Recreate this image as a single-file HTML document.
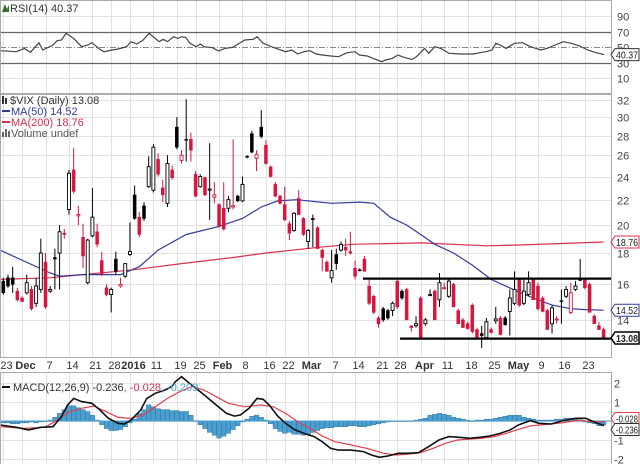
<!DOCTYPE html>
<html><head><meta charset="utf-8"><style>
html,body{margin:0;padding:0;background:#fff;}
svg{display:block;font-family:"Liberation Sans",sans-serif;}
</style></head><body>
<svg id="chart" width="640" height="464" viewBox="0 0 640 464" xmlns="http://www.w3.org/2000/svg">
<defs>
<clipPath id="clipRsi"><rect x="0" y="0" width="611" height="93"/></clipPath>
<clipPath id="clipMain"><rect x="0" y="94" width="611" height="263"/></clipPath>
<clipPath id="clipMacd"><rect x="0" y="372" width="611" height="92"/></clipPath>
</defs>
<g id="grid"></g>
<g id="rsiG" clip-path="url(#clipRsi)"></g>
<g id="mainG" clip-path="url(#clipMain)"></g>
<g id="macdG" clip-path="url(#clipMacd)"></g>
<g id="axes"></g>
<g id="legends">
  <text x="10" y="12" font-size="11" fill="#333">RSI(14) 40.37</text>
  <path d="M2 12 L5 4 L7 9 L9 5 L9 12 Z" fill="#3a6a30"/>
  <text x="10" y="104" font-size="11" fill="#333">$VIX (Daily) 13.08</text>
  <path d="M2 96 h2 v8 h-2z M5 98 h2 v6 h-2z" fill="#333"/>
  <line x1="2" y1="111" x2="10" y2="111" stroke="#333c99" stroke-width="2"/>
  <text x="11" y="115" font-size="11" fill="#333c99">MA(50) 14.52</text>
  <line x1="2" y1="122" x2="10" y2="122" stroke="#d8304f" stroke-width="2"/>
  <text x="11" y="126" font-size="11" fill="#d8304f">MA(200) 18.76</text>
  <path d="M2 137 v-5 h2 v5z M5 137 v-8 h2 v8z M8 137 v-6 h2 v6z" fill="#666"/>
  <text x="11" y="137" font-size="11" fill="#555">Volume undef</text>
  <line x1="2" y1="387" x2="10" y2="387" stroke="#111" stroke-width="2"/>
  <text x="13" y="391" font-size="11" fill="#333">MACD(12,26,9) -0.236<tspan fill="#d8304f">, -0.028</tspan><tspan fill="#4aa3d8">, -0.209</tspan></text>
</g>
</svg>
<script>
// ---- data ----
const opens=[16.2,16.4,16.4,15.6,15.2,15.5,15.7,14.9,15.7,17.4,15.6,17.7,18.0,19.4,21.2,24.6,20.7,19.1,16.1,19.2,19.5,17.5,15.8,15.4,17.6,15.9,16.5,17.9,22.4,20.6,21.5,23.1,22.8,25.6,23.0,21.7,24.6,28.9,25.5,27.6,27.6,24.2,23.1,23.9,22.8,22.2,21.6,21.3,21.3,21.4,22.3,21.9,25.9,28.2,25.7,28.9,27.0,24.9,23.3,22.3,21.6,20.1,19.6,22.1,20.5,18.8,20.5,19.8,18.2,17.4,16.4,17.9,18.2,18.4,18.1,17.0,16.9,17.6,15.9,15.3,14.1,14.6,14.5,14.5,16.2,15.6,15.7,13.7,13.7,15.2,13.8,15.4,15.6,15.1,15.8,15.3,16.0,14.5,14.0,13.8,14.8,13.5,13.3,13.1,13.5,13.95,14.1,14.1,14.45,14.9,16.3,14.9,15.4,16.3,15.9,15.2,14.5,13.8,14.0,15.05,15.3,14.4,15.7,16.3,16.3,16.0,14.2,13.7,13.5];
const highs=[16.4,16.6,17.1,15.8,15.3,16.6,15.9,16.4,19.0,18.0,15.9,18.3,20.0,19.7,24.6,26.7,21.5,20.1,19.0,23.0,20.1,18.1,16.0,15.8,18.1,16.4,17.3,20.2,23.2,21.0,21.8,25.9,27.1,26.2,23.7,26.0,25.0,30.0,26.5,32.1,28.3,24.5,24.2,24.0,27.2,23.5,21.7,23.5,22.3,27.6,22.4,24.0,26.0,28.5,26.5,30.8,27.5,25.0,23.5,22.4,23.1,20.3,21.0,22.8,20.6,19.7,20.8,19.9,18.3,17.5,18.2,18.3,18.8,19.0,19.5,17.5,17.0,17.8,16.4,15.4,14.2,14.7,14.6,15.0,16.4,15.7,15.8,13.7,14.2,15.3,14.1,15.7,15.7,16.7,16.1,16.3,16.1,14.6,14.1,13.9,14.9,13.6,13.7,14.1,13.6,14.7,14.2,14.2,15.7,16.8,16.4,16.3,16.8,16.4,16.1,15.3,14.6,14.8,14.2,15.7,15.9,16.1,16.2,17.6,16.4,16.1,14.3,13.9,13.6];
const lows=[15.4,15.8,15.5,15.0,15.0,15.4,14.5,14.7,15.5,14.6,15.5,15.7,15.7,19.0,20.8,22.5,20.0,17.0,16.0,19.1,18.4,16.5,15.3,14.4,16.6,15.8,16.4,17.8,20.4,19.1,20.3,23.0,22.6,24.0,21.8,21.4,23.7,26.6,25.2,25.4,25.4,22.2,23.0,22.3,20.4,21.7,19.8,19.6,21.0,21.2,21.8,21.8,25.7,26.2,24.5,27.7,25.1,23.9,22.2,21.6,20.3,18.9,19.5,20.8,19.2,18.3,18.4,18.3,16.8,16.8,16.1,16.9,18.1,17.8,17.9,16.3,16.8,16.8,14.8,14.3,13.6,13.9,14.0,14.2,14.6,15.1,14.0,13.4,13.6,13.0,13.7,15.3,14.0,14.7,15.7,15.2,14.7,13.8,13.6,13.5,13.3,13.0,12.6,13.0,13.3,13.8,13.2,13.7,13.2,14.8,14.7,14.8,15.3,15.1,14.5,14.4,13.5,13.3,13.8,13.8,15.2,14.3,15.6,16.2,15.7,14.4,13.8,13.5,13.0];
const closes=[15.5,15.9,16.0,15.1,15.0,16.1,14.6,15.9,18.0,14.7,15.7,17.6,19.5,19.3,24.3,22.7,20.8,17.8,18.9,20.6,18.6,16.6,15.4,15.7,16.8,16.0,17.3,18.1,20.5,19.3,20.5,24.9,26.8,24.2,22.4,25.2,23.9,26.8,26.0,27.5,26.5,22.3,24.0,22.4,22.9,22.4,19.9,19.7,22.0,21.5,21.9,23.3,25.8,26.3,26.1,27.9,25.2,24.0,22.3,21.7,20.4,19.4,20.9,20.8,19.3,19.6,20.4,18.3,17.7,16.8,16.85,17.3,18.6,18.2,18.0,16.5,16.85,16.8,14.9,14.4,13.8,14.0,14.1,14.9,14.7,15.2,14.0,13.6,13.8,13.1,14.0,15.4,14.0,16.1,15.8,16.2,14.7,13.8,13.6,13.55,13.4,13.1,13.2,13.9,13.35,14.05,13.25,13.75,15.2,15.7,14.8,15.6,16.1,15.1,14.6,14.45,13.5,14.65,14.05,15.0,15.7,15.5,15.9,16.25,15.8,14.4,13.8,13.5,13.08];
const ma50Day=[-0.7,10,12,17,25,29,33,39,46,51,55,58.5,62.6,67.5,70,76,79,82.5,86,89,92,96,100,104,108.7,113,117,121,124,128];
const ma50Val=[18.2,16.7,16.5,16.6,16.6,17.1,18.2,19.3,19.9,20.5,21.4,21.9,22.0,21.8,21.7,21.8,21.7,20.6,20.0,19.3,18.6,18.0,17.2,16.3,15.7,15.2,14.8,14.6,14.55,14.52];
const ma200Day=[-0.7,10,17,27.7,38,49,56,67.5,74.6,89,103,110,128];
const ma200Val=[16.3,16.4,16.6,16.9,17.3,17.7,18.0,18.4,18.6,18.7,18.5,18.55,18.76];
const trendStart=[76.7,84.6];
const trendVal=[16.35,13.05];
const rsiDay=[-0.7,2.8,4.5,5.8,7.6,8.4,10.6,11.5,12.4,13.4,15,16.7,18,18.9,20.6,21.5,23.2,24.5,26.3,27.2,28.5,29.8,31.1,32.4,33.2,34.1,35,36.3,37.2,38,38.9,39.8,41.1,42,42.8,44.6,45.9,47.2,48.9,51.5,53.3,54.1,55.4,57.6,60.2,61.5,62.8,64.1,65.4,66.7,68,69.8,71.5,73.3,75,75.9,77.6,79.4,80.7,81.5,82.9,84.2,85,86.3,87.2,88.1,89.8,90.7,92,93.3,95,97.6,100.3,101.6,102.9,104.2,105,105.9,107.2,109,110.7,112.4,114.6,115.9,117.7,119.4,121.1,122.9,124.6,126.4,128.1];
const rsiVal=[45.5,44.2,48.5,43.4,55.8,46.4,52.8,58.4,59.3,67.9,61.4,50.7,52.8,55.8,47.2,44.2,46.4,47.7,50.7,57.1,54.1,59.3,67.9,61.4,57.1,60.2,57.1,63.6,61.4,63.6,62.7,55.0,50.7,54.1,50.7,49.4,45.1,48.5,49.8,59.3,60.2,63.6,55.0,49.8,44.2,46.4,41.2,44.2,45.5,41.2,39.9,38.6,37.8,42.9,44.2,39.9,38.6,34.3,31.3,33.5,35.6,39.9,37.8,35.6,34.3,37.8,48.5,42.1,50.7,48.5,42.1,41.2,41.2,42.9,44.2,46.4,55.0,52.8,48.5,55.0,55.8,50.7,46.4,48.5,52.8,57.1,55.0,51.5,46.4,42.9,40.4];
const macdDay=[-0.7,2.8,5.4,8,10.6,12.4,13.7,15,16.7,18.9,20.6,22.4,24.5,25.8,27.2,29.3,30.6,32.4,34.5,35.9,36.7,38,39.3,40.2,42,43.7,45.4,47.6,49.3,50.6,52.4,54.1,55.4,56.7,58.5,60.2,62,64.1,66.3,68,69.8,71.5,74.1,76.8,78.5,80.2,82,84.2,86.3,88.5,90.7,92.9,95,97.2,99.4,101.6,103.7,105.9,108.1,109.8,112.4,114.2,116.8,119.4,122,124.2,126.4,128.1];
const macdVal=[-0.21,-0.33,-0.47,-0.33,-0.30,0.23,0.84,1.19,1.02,0.93,0.58,0.14,-0.12,-0.16,0.05,0.58,1.19,1.46,1.63,1.81,2.07,2.33,2.07,1.89,1.54,1.19,0.84,0.40,0.26,0.32,0.67,1.19,1.14,0.84,0.26,-0.12,-0.44,-0.65,-0.82,-1.09,-1.44,-1.53,-1.53,-1.61,-1.79,-1.91,-1.84,-1.70,-1.70,-1.67,-1.35,-1.0,-0.82,-0.86,-0.91,-0.86,-0.79,-0.65,-0.47,-0.21,0.02,-0.12,-0.16,0.02,0.14,0.14,-0.09,-0.24];
const signalDay=[-0.7,4.5,8.9,11.5,14.1,16.7,19.3,21.9,24.5,27.2,29.8,32.4,35,37.6,40.2,42.8,45.4,48,51.5,55,57.6,60.2,62.8,65.4,68,70.7,74.1,77.6,81.1,83.7,86.3,88.9,91.6,94.2,96.8,99.4,102,104.6,107.2,109.8,112.4,115.9,119.4,122.9,125.5,128.1];
const signalVal=[-0.30,-0.39,-0.33,0.05,0.49,0.67,0.79,0.49,0.19,0.14,0.32,0.75,1.19,1.54,1.81,1.63,1.28,0.93,0.75,0.84,0.75,0.40,-0.04,-0.39,-0.79,-1.09,-1.26,-1.44,-1.70,-1.79,-1.74,-1.67,-1.44,-1.18,-1.0,-0.96,-0.91,-0.82,-0.65,-0.44,-0.26,-0.18,-0.09,0.05,-0.04,-0.03];
const histVal=[-0.1,-0.1,-0.15,-0.15,-0.1,-0.1,-0.05,-0.1,-0.05,0,0.05,0.2,0.4,0.6,0.8,0.8,0.7,0.6,0.5,0.3,0.05,-0.2,-0.4,-0.5,-0.5,-0.45,-0.3,-0.1,0.1,0.4,0.6,0.85,0.75,0.65,0.6,0.6,0.55,0.55,0.5,0.5,0.3,0.0,-0.2,-0.4,-0.6,-0.75,-0.9,-0.8,-0.65,-0.45,-0.25,-0.05,0.1,0.25,0.3,0.2,0.05,-0.15,-0.4,-0.55,-0.65,-0.6,-0.7,-0.7,-0.75,-0.7,-0.6,-0.5,-0.4,-0.35,-0.35,-0.3,-0.3,-0.3,-0.25,-0.25,-0.3,-0.3,-0.25,-0.2,-0.15,-0.1,-0.05,0,0,0,0,0,0.05,0.1,0.15,0.3,0.35,0.4,0.35,0.3,0.2,0.15,0.1,0.05,0,0.05,0.05,0.1,0.1,0.15,0.2,0.25,0.3,0.3,0.3,0.2,0.15,0.1,0.05,0.05,0.05,0.05,0.1,0.1,0.15,0.15,0.1,0.05,-0.05,-0.1,-0.15,-0.25,-0.21];
const priceTicks=[14,16,18,20,22,24,26,28,30,32];
const rsiTicks=[10,30,50,70,90];
const macdTicks=[-2,-1,0,1,2];
const weekDay=[0,4,9,14,19,23,27,32,37,41,46,51,56,60,65,70,75,80,84,89,94,99,104,109,114,119,124];
const weekLabel=["23","Dec","7","14","21","28","2016","11","19","25","Feb","8","16","22","Mar","7","14","21","28","Apr","11","18","25","May","9","16","23"];

// ---- scales ----
const NS="http://www.w3.org/2000/svg";
const xOf=i=>3.3+4.69*i;
const yP=v=>100+(Math.log(32)-Math.log(v))*266;
const yR=v=>31.7+(70-v)*0.775;
const yM=v=>421-19*v;
const RED="#d8153f";
function mk(tag,attrs,parent){const e=document.createElementNS(NS,tag);for(const k in attrs)e.setAttribute(k,attrs[k]);parent.appendChild(e);return e;}
const grid=document.getElementById('grid'),rsiG=document.getElementById('rsiG'),mainG=document.getElementById('mainG'),macdG=document.getElementById('macdG'),axes=document.getElementById('axes');

[[0,0,611,93],[0,94,611,263],[0,372,611,92]].forEach((r,k)=>{
  const e=mk('rect',{x:r[0]+0.5,y:r[1]+0.5,width:r[2],height:r[3],fill:'none',stroke:'#aaa','stroke-width':1},axes);
  
  
});

weekDay.forEach((d,k)=>{
  const x=Math.round(xOf(d))+0.5;
  [[0,93],[94,357],[372,464]].forEach(p=>{
    const l=mk('line',{x1:x,x2:x,y1:p[0],y2:p[1],stroke:'#e2e2e2','stroke-width':1},grid);
    
    
  });
  const bold=isNaN(+weekLabel[k])||weekLabel[k]==="2016";
  const t=mk('text',{x:x+3,y:369,'font-size':11,'text-anchor':'middle',fill:'#333','font-weight':bold?'bold':'normal'},axes);
  t.textContent=weekLabel[k];
  
  
});

priceTicks.forEach(v=>{
  const y=Math.round(yP(v))+0.5;
  const l=mk('line',{x1:0,x2:611,y1:y,y2:y,stroke:'#e2e2e2'},grid);
  
  
  const t=mk('text',{x:617,y:y+4,'font-size':11,fill:'#444'},axes);
  t.textContent=v;
  
  
});
rsiTicks.forEach(v=>{
  const y=Math.round(yR(v))+0.5;
  const strong=(v===30||v===70);
  const l=mk('line',{x1:0,x2:611,y1:y,y2:y,stroke:strong?'#666':(v===50?'#888':'#e2e2e2'),'stroke-width':strong?1.3:1,'stroke-dasharray':v===50?'6,2,1,2':'none'},grid);
  
  
  const t=mk('text',{x:617,y:y+4,'font-size':11,fill:'#444'},axes);
  t.textContent=v;
  
  
});
macdTicks.forEach(v=>{
  const y=Math.round(yM(v))+0.5;
  const l=mk('line',{x1:0,x2:611,y1:y,y2:y,stroke:'#e2e2e2'},grid);
  
  
  if(v!==0){const t=mk('text',{x:614,y:y+4,'font-size':11,fill:'#444'},axes);
  t.textContent=v;
  
  }
});

let d='';rsiDay.forEach((dd,k)=>{d+=(k?'L':'M')+xOf(dd).toFixed(1)+' '+yR(rsiVal[k]).toFixed(1);});
const rl=mk('path',{d:d,fill:'none',stroke:'#444','stroke-width':1.2},rsiG);



function linePath(days,vals,fy){let s='';days.forEach((dd,k)=>{s+=(k?'L':'M')+xOf(dd).toFixed(1)+' '+fy(vals[k]).toFixed(1);});return s;}
const m200=mk('path',{d:linePath(ma200Day,ma200Val,yP),fill:'none',stroke:'#d8304f','stroke-width':1.2},mainG);


const m50=mk('path',{d:linePath(ma50Day,ma50Val,yP),fill:'none',stroke:'#333c99','stroke-width':1.2},mainG);



closes.forEach((c,i)=>{
  const o=opens[i],h=highs[i],l=lows[i];
  const prev=i?closes[i-1]:c;
  const col=c<prev?RED:'#000';
  const x=xOf(i);
  const w=mk('line',{x1:x,x2:x,y1:yP(h),y2:yP(l),stroke:col,'stroke-width':1},mainG);
  
  
  const top=yP(Math.max(o,c)),bot=yP(Math.min(o,c));
  const hollow=c>=o;
  const b=mk('rect',{x:x-1.5,y:top,width:3,height:Math.max(1,bot-top),fill:hollow?'#fff':col,stroke:col,'stroke-width':hollow?0.9:0.5},mainG);
  
  
});

trendStart.forEach((s,k)=>{
  const y=yP(trendVal[k]);
  const tl=mk('line',{x1:xOf(s),x2:611,y1:y,y2:y,stroke:'#000','stroke-width':2.2},mainG);
  
  
});

histVal.forEach((v,i)=>{
  const x=xOf(i);const y0=yM(0),y1=yM(v);
  const r=mk('rect',{x:x-2.3,y:Math.min(y0,y1),width:4.6,height:Math.max(0.5,Math.abs(y1-y0)),fill:'#4a9fd0',stroke:'#2a6a90','stroke-width':0.4},macdG);
  
  
});
const zl=mk('line',{x1:0,x2:611,y1:yM(0),y2:yM(0),stroke:'#4a9fd0','stroke-width':1},macdG);


const sg=mk('path',{d:linePath(signalDay,signalVal,yM),fill:'none',stroke:'#e0404a','stroke-width':1.2},macdG);


const ml=mk('path',{d:linePath(macdDay,macdVal,yM),fill:'none',stroke:'#111','stroke-width':1.6},macdG);



function tag(y,txt,stroke,bold,name){
  const g=mk('g',{},axes);
  
  
  mk('path',{d:`M611 ${y} L615 ${y-6} L639 ${y-6} L639 ${y+6} L615 ${y+6} Z`,fill:'#fff',stroke:stroke,'stroke-width':bold?1.5:1},g);
  const t=mk('text',{x:616,y:y+4,'font-size':10.5,fill:'#222','font-weight':bold?'bold':'normal',textLength:22,lengthAdjust:'spacingAndGlyphs'},g);
  t.textContent=txt;
}
tag(yR(40.37),'40.37','#333',false,'rsi-value-tag');
tag(yP(18.76),'18.76','#d8304f',false,'ma200-value-tag');
tag(yP(14.52),'14.52','#333c99',false,'ma50-value-tag');
tag(yP(13.08),'13.08','#000',true,'price-value-tag');
tag(yM(-0.028)-3,'-0.028','#e0404a',false,'signal-value-tag');
tag(yM(-0.236)+4,'-0.236','#333',false,'macd-value-tag');
</script>
</body></html>
